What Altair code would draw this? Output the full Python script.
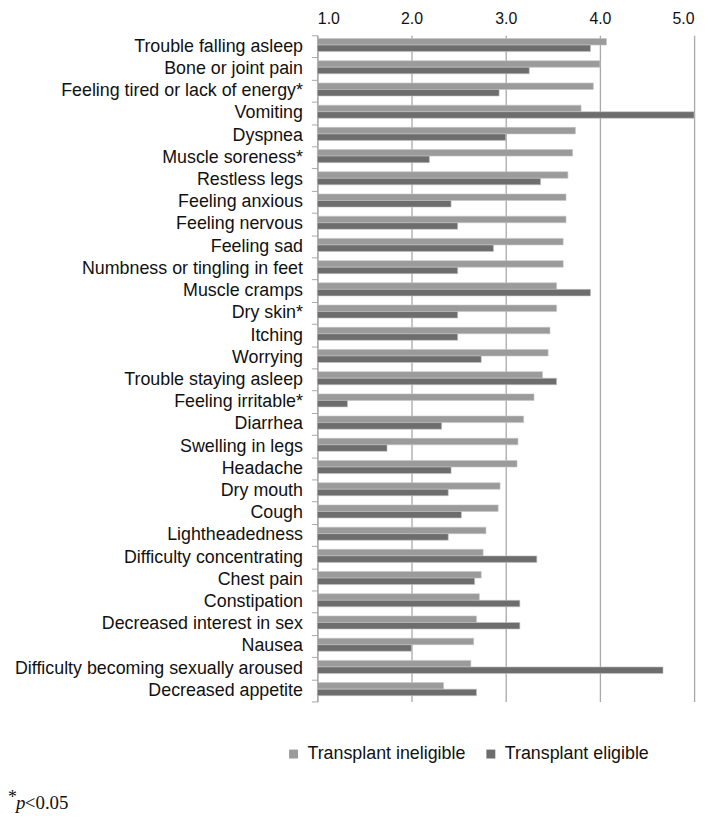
import altair as alt
import pandas as pd

symptoms = [
    "Trouble falling asleep", "Bone or joint pain", "Feeling tired or lack of energy*",
    "Vomiting", "Dyspnea", "Muscle soreness*", "Restless legs", "Feeling anxious",
    "Feeling nervous", "Feeling sad", "Numbness or tingling in feet", "Muscle cramps",
    "Dry skin*", "Itching", "Worrying", "Trouble staying asleep", "Feeling irritable*",
    "Diarrhea", "Swelling in legs", "Headache", "Dry mouth", "Cough", "Lightheadedness",
    "Difficulty concentrating", "Chest pain", "Constipation", "Decreased interest in sex",
    "Nausea", "Difficulty becoming sexually aroused", "Decreased appetite",
]
ineligible = [4.07, 4.00, 3.93, 3.80, 3.74, 3.71, 3.66, 3.64, 3.64, 3.61, 3.61, 3.54,
              3.54, 3.47, 3.45, 3.39, 3.30, 3.19, 3.13, 3.12, 2.94, 2.92, 2.79, 2.76,
              2.74, 2.72, 2.69, 2.66, 2.63, 2.34]
eligible = [3.90, 3.25, 2.93, 5.00, 3.00, 2.19, 3.37, 2.42, 2.49, 2.87, 2.49, 3.90,
            2.49, 2.49, 2.74, 3.54, 1.32, 2.32, 1.74, 2.42, 2.39, 2.53, 2.39, 3.33,
            2.67, 3.15, 3.15, 2.00, 4.67, 2.69]
series_names = ["Transplant ineligible", "Transplant eligible"]
series_colors = ["#9b9b9b", "#6d6d6d"]
x_ticks = [1.0, 2.0, 3.0, 4.0, 5.0]

rows = []
for s, a, b in zip(symptoms, ineligible, eligible):
    rows.append({"symptom": s, "series": series_names[0], "value": a})
    rows.append({"symptom": s, "series": series_names[1], "value": b})
df = pd.DataFrame(rows)

FONT = "Liberation Sans"
SERIF = "Liberation Serif"
GRID = "#a8a8a8"

bars = alt.Chart(df).mark_bar(stroke="#c4c4c4", strokeWidth=0.6).encode(
    y=alt.Y(
        "symptom:N", sort=symptoms,
        scale=alt.Scale(paddingInner=0, paddingOuter=0),
        axis=alt.Axis(
            title=None, tickBand="extent", labelFont=FONT, labelFontSize=18,
            labelColor="#111111", labelPadding=9, tickSize=6, tickColor=GRID,
            domainColor=GRID, domainWidth=1.2, labelLimit=400, grid=False,
        ),
    ),
    x=alt.X(
        "value:Q",
        scale=alt.Scale(domain=[1, 5], nice=False, zero=False),
        axis=alt.Axis(
            orient="top", values=x_ticks, format=".1f", title=None, grid=True,
            gridColor=GRID, gridWidth=1.3, ticks=False, domain=False,
            labelFont=FONT, labelFontSize=16, labelColor="#111111", labelPadding=9,
        ),
    ),
    x2=alt.datum(1.0),
    yOffset=alt.YOffset(
        "series:N", sort=series_names,
        scale=alt.Scale(paddingInner=0, paddingOuter=0.7, align=0.36),
    ),
    color=alt.Color(
        "series:N", sort=series_names,
        scale=alt.Scale(domain=series_names, range=series_colors),
        legend=alt.Legend(
            title=None, orient="none", direction="horizontal", legendX=-33, legendY=716,
            symbolType="square", symbolSize=81, symbolStrokeWidth=0, labelFont=FONT,
            labelFontSize=18, labelColor="#111111", labelOffset=5, columnPadding=16,
            padding=0,
        ),
    ),
)

star = alt.Chart(pd.DataFrame({"t": ["*"]})).mark_text(
    font=SERIF, fontSize=18, align="left", baseline="alphabetic", color="#111111"
).encode(text="t:N", x=alt.value(-312), y=alt.value(774))
pee = alt.Chart(pd.DataFrame({"t": ["p"]})).mark_text(
    font=SERIF, fontSize=19, fontStyle="italic", align="left", baseline="alphabetic",
    color="#111111",
).encode(text="t:N", x=alt.value(-304), y=alt.value(780))
rest = alt.Chart(pd.DataFrame({"t": ["<0.05"]})).mark_text(
    font=SERIF, fontSize=19, align="left", baseline="alphabetic", color="#111111"
).encode(text="t:N", x=alt.value(-295), y=alt.value(780))

chart = alt.layer(bars, star, pee, rest).properties(
    width=380, height=672,
    autosize=alt.AutoSizeParams(type="none"),
    padding={"left": 312, "top": 24, "right": 12, "bottom": 113},
).configure_view(stroke=None)

chart.save("out.html", embed_options={"renderer": "svg", "actions": False})
